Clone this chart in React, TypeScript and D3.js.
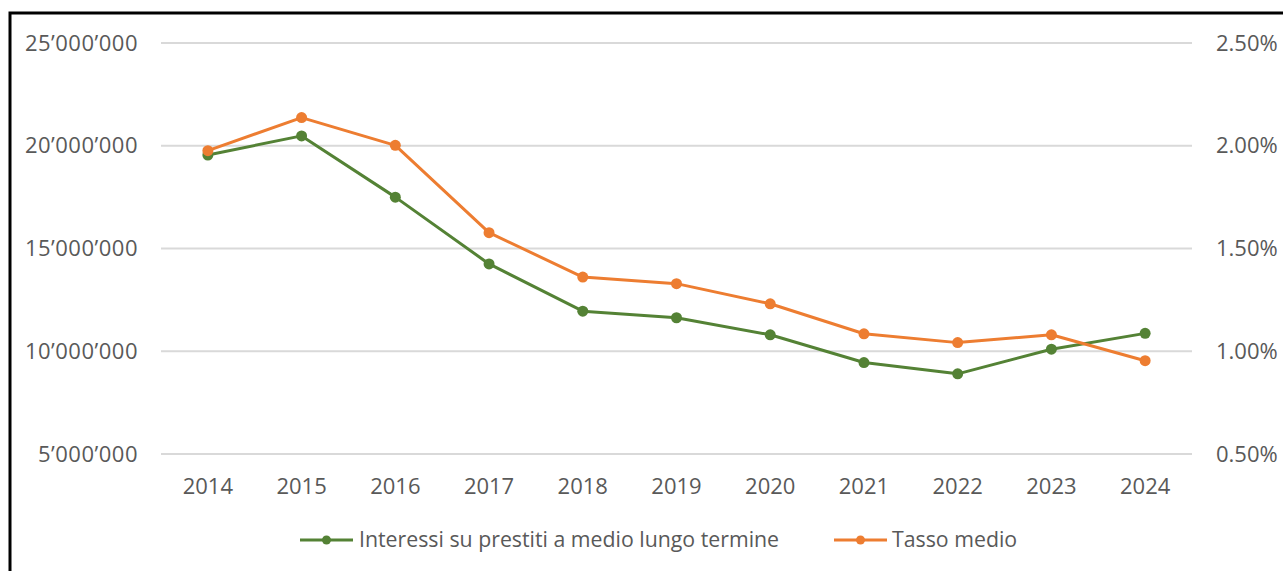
import React from "react";
import * as d3 from "d3";

const width = 1283;
const height = 571;

const years = ["2014", "2015", "2016", "2017", "2018", "2019", "2020", "2021", "2022", "2023", "2024"];
const interessi = [19550000, 20480000, 17500000, 14250000, 11950000, 11630000, 10800000, 9450000, 8900000, 10100000, 10870000];
const tasso = [0.01976, 0.02137, 0.02002, 0.01577, 0.01361, 0.01329, 0.01231, 0.01085, 0.01042, 0.0108, 0.00954];
const leftTicks = [5000000, 10000000, 15000000, 20000000, 25000000];
const rightTicks = [0.005, 0.01, 0.015, 0.02, 0.025];

const greenColor = "#548235";
const orangeColor = "#ED7D31";
const textColor = "#595959";
const font = "'Open Sans', 'Noto Sans', sans-serif";

const x = d3.scalePoint<string>().domain(years).range([161, 1192]).padding(0.5);
const yLeft = d3.scaleLinear().domain([5000000, 25000000]).range([454, 43]);
const yRight = d3.scaleLinear().domain([0.005, 0.025]).range([454, 43]);

const locale = d3.formatLocale({ decimal: ".", thousands: "\u2019", grouping: [3], currency: ["", ""] });
const fmtLeft = locale.format(",d");
const fmtRight = d3.format(".2%");

const lineLeft = d3.line<number>().x((_, i) => x(years[i])!).y((d) => yLeft(d));
const lineRight = d3.line<number>().x((_, i) => x(years[i])!).y((d) => yRight(d));

const App = () => {
  return (
    <svg width={width} height={height} style={{ position: "absolute", left: 0, top: 0, background: "#fff" }} fontFamily={font}>
      <rect x={0} y={0} width={width} height={height} fill="#fff" />
      <path d={`M10,${height} V13 H${width}`} fill="none" stroke="#000" strokeWidth={3} />

      {leftTicks.map((t) => (
        <line key={t} x1={161} x2={1192} y1={yLeft(t)} y2={yLeft(t)} stroke="#d9d9d9" strokeWidth={2} />
      ))}
      {leftTicks.map((t) => (
        <text key={t} x={138} y={yLeft(t)} dy="0.35em" textAnchor="end" fontSize={22} letterSpacing={0.5} fill={textColor}>
          {fmtLeft(t)}
        </text>
      ))}
      {rightTicks.map((t) => (
        <text key={t} x={1216} y={yRight(t)} dy="0.35em" textAnchor="start" fontSize={22} fill={textColor}>
          {fmtRight(t)}
        </text>
      ))}
      {years.map((yr) => (
        <text key={yr} x={x(yr)} y={486} dy="0.35em" textAnchor="middle" fontSize={22} fill={textColor}>
          {yr}
        </text>
      ))}

      <path d={lineLeft(interessi)!} fill="none" stroke={greenColor} strokeWidth={3} strokeLinejoin="round" />
      {interessi.map((v, i) => (
        <circle key={i} cx={x(years[i])} cy={yLeft(v)} r={5.5} fill={greenColor} />
      ))}
      <path d={lineRight(tasso)!} fill="none" stroke={orangeColor} strokeWidth={3} strokeLinejoin="round" />
      {tasso.map((v, i) => (
        <circle key={i} cx={x(years[i])} cy={yRight(v)} r={5.5} fill={orangeColor} />
      ))}

      {/* legend */}
      <g>
        <line x1={300} x2={353} y1={540} y2={540} stroke={greenColor} strokeWidth={3} />
        <circle cx={326.5} cy={540} r={4.5} fill={greenColor} />
        <text x={359} y={540} dy="0.35em" fontSize={21.3} fill={textColor}>
          Interessi su prestiti a medio lungo termine
        </text>
        <line x1={834} x2={887} y1={540} y2={540} stroke={orangeColor} strokeWidth={3} />
        <circle cx={860.5} cy={540} r={4.5} fill={orangeColor} />
        <text x={892} y={540} dy="0.35em" fontSize={21.3} fill={textColor}>
          Tasso medio
        </text>
      </g>
    </svg>
  );
};

export default App;
